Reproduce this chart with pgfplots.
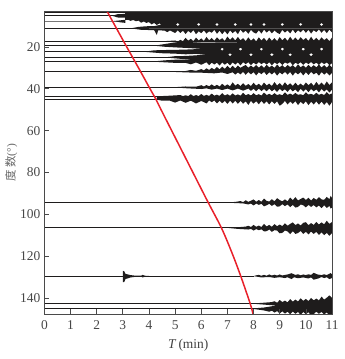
\documentclass[border=0pt]{standalone}
\usepackage{pgfplots}
\pgfplotsset{compat=1.18}
\usepackage{fontspec}
\setmainfont{Liberation Serif}
\newfontfamily\cjk{Noto Sans CJK SC}
\definecolor{tr}{HTML}{1E1C1C}
\definecolor{ax}{HTML}{4A4A4A}
\definecolor{rc}{HTML}{E8202A}
\begin{document}
\begin{tikzpicture}[x=1bp,y=1bp]
\path[use as bounding box] (0,0) rectangle (345,359);
\begin{axis}[
  at={(44.4bp,45bp)},anchor=south west,
  width=287.6bp,height=303bp,scale only axis,
  xmin=0,xmax=11,ymin=2.8,ymax=147.7,y dir=reverse,
  xtick={0,...,11},ytick={20,40,...,140},
  tick pos=left,tick align=inside,
  major tick length=5bp,
  axis line style={ax,line width=0.9bp},
  every tick/.style={ax,line width=0.7bp},
  tick label style={font=\fontsize{13.5}{14}\selectfont,text=black!72},
  /pgf/number format/assume math mode=true,
  xticklabel style={yshift=-3bp},
  yticklabel style={xshift=-0.5bp},
  xlabel={\textit{T}\,(min)},
  xlabel style={font=\fontsize{13.5}{14}\selectfont,text=black!75,yshift=-3bp},
  ylabel={{\cjk 度\,数}(°)},
  ylabel style={font=\fontsize{11.5}{12}\selectfont,text=black!60,yshift=-4bp},
  axis on top,
]
\pgfplotsset{bl/.style={tr,line width=0.8bp,forget plot},band/.style={fill=tr,draw=none,forget plot}}
% baselines
\addplot[bl] coordinates {(0,3.4)(3.1,3.4)};
\addplot[bl] coordinates {(0,5.1)(3.1,5.1)};
\addplot[tr!60,line width=1.1bp,forget plot] coordinates {(0,7.9)(3.1,7.9)};
\addplot[bl] coordinates {(0,11.1)(4,11.1)};
\addplot[bl] coordinates {(0,17.5)(6,17.5)};
\addplot[bl] coordinates {(0,19.4)(6,19.4)};
\addplot[bl] coordinates {(0,22.3)(6,22.3)};
\addplot[bl] coordinates {(0,25)(6,25)};
\addplot[bl,line width=1.1bp] coordinates {(0,27)(6,27)};
\addplot[bl] coordinates {(0,31.9)(7,31.9)};
\addplot[bl] coordinates {(0,39.3)(6,39.3)};
\addplot[bl,line width=1bp] coordinates {(0,43.5)(5,43.5)};
\addplot[bl] coordinates {(0,44.9)(5,44.9)};
\addplot[bl] coordinates {(0,94.4)(8,94.4)};
\addplot[bl] coordinates {(0,106.5)(8,106.5)};
\addplot[bl] coordinates {(0,129.6)(8,129.6)};
\addplot[bl] coordinates {(0,142.7)(8.2,142.7)};
\addplot[bl] coordinates {(0,145.1)(8.2,145.1)};
% top block
\addplot[band] coordinates {(2.6,5.1)(2.8,4.3)(3.09,4.2)(3.09,6)(2.8,5.9)};
\addplot[band] coordinates {(2.65,7.6)(3.1,7.0)(3.1,8.5)(2.9,8.2)};
\addplot[band] coordinates {(3.09,1)(3.09,7.1)(3.2,7.0)(3.3,7.5)(3.4,7.1)(3.5,7.7)(3.6,7.4)(3.7,8.4)(3.8,7.8)(3.9,8.5)(4.0,8.1)(4.1,9.2)(4.2,8.5)(4.3,9.5)(4.4,8.7)(4.5,9.9)(4.7,9.6)(5.0,9.6)(5.1,8.5)(5.2,9.6)(5.8,9.6)(5.9,8.5)(6.0,9.7)(6.5,9.6)(6.6,8.5)(6.7,9.6)(7.2,9.7)(7.3,8.5)(7.4,9.6)(7.8,9.6)(7.9,8.5)(8.0,9.7)(8.3,9.6)(8.4,8.5)(8.5,9.6)(9.0,9.7)(9.1,8.5)(9.2,9.6)(9.7,9.6)(9.8,8.5)(9.9,9.6)(10.5,9.7)(10.6,8.5)(10.7,9.6)(11,9.6)(11,1)};
\addplot[band] coordinates {(3.3,11.1)(3.6,10.4)(3.9,10.1)(4.2,10.0)(4.4,9.5)(4.7,8.9)(5.0,8.8)(5.1,10.0)(5.2,8.8)(5.8,8.8)(5.9,10.0)(6.0,8.8)(6.5,8.8)(6.6,10.0)(6.7,8.8)(7.2,8.8)(7.3,10.0)(7.4,8.8)(7.8,8.8)(7.9,10.0)(8.0,8.8)(8.3,8.8)(8.4,10.0)(8.5,8.8)(9.0,8.8)(9.1,10.0)(9.2,8.8)(9.7,8.8)(9.8,10.0)(9.9,8.8)(10.5,8.8)(10.6,10.0)(10.7,8.8)(11,8.8)(11,11.1)};
\addplot[band] coordinates {(3.3,11.1)(3.7,11.8)(4.0,11.9)(4.2,12.0)(4.3,14.3)(4.35,12.0)(4.6,12.2)(4.7,12.9)(4.8,12.1)(4.9,12.7)(5,13.3)(5.1,12.0)(5.2,13.3)(5.3,12.2)(5.4,13.8)(5.5,12.3)(5.6,13.3)(5.7,12.0)(5.8,13.9)(5.9,12.5)(6,13.4)(6.1,12.1)(6.2,13.6)(6.3,12.5)(6.4,13.2)(6.5,11.8)(6.6,13.7)(6.7,12.2)(6.8,13.9)(6.9,12.4)(7,14.0)(7.1,12.1)(7.2,13.4)(7.3,12.3)(7.4,13.9)(7.5,11.7)(7.6,13.2)(7.7,12.2)(7.8,13.7)(7.9,11.8)(8,13.0)(8.1,13.6)(8.2,12.0)(8.3,13.6)(8.4,11.7)(8.5,13.1)(8.6,12.0)(8.7,13.5)(8.8,12.1)(8.9,13.2)(9,13.8)(9.1,11.8)(9.2,13.1)(9.3,12.1)(9.4,13.5)(9.5,11.7)(9.6,13.4)(9.7,12.0)(9.8,13.0)(9.9,11.7)(10,13.2)(10.1,11.8)(10.2,13.6)(10.3,12.0)(10.4,12.9)(10.5,11.6)(10.6,13.2)(10.7,11.8)(10.8,13.4)(10.9,11.7)(11,13.0)(11,11.1)};
% 17.5 - 27 block
\addplot[band] coordinates {(4,17.5)(4.6,17.2)(5,16.9)(5.1,17.4)(5.2,16.6)(5.3,17.2)(5.4,15.6)(5.5,17)(5.6,16.1)(5.7,17.2)(5.8,15.5)(5.9,16.9)(6,15.9)(6.1,17.1)(6.2,15.2)(6.3,16.8)(6.4,15.7)(6.5,17)(6.6,15.4)(6.7,16.7)(6.8,15.8)(6.9,17.1)(7,15.0)(7.1,16.6)(7.2,15.4)(7.3,16.9)(7.4,15.2)(7.5,16.8)(7.6,15.8)(7.7,17.2)(7.8,15.4)(7.9,17)(8,15.9)(8.1,17.3)(8.2,15.4)(8.3,16.9)(8.4,15.7)(8.5,17.2)(8.6,15.5)(8.7,17)(8.8,15.8)(8.9,17.2)(9,15.3)(9.1,16.8)(9.2,15.6)(9.3,17.1)(9.4,15.1)(9.5,16.8)(9.6,15.5)(9.7,16.9)(9.8,15.3)(9.9,16.7)(10,15.7)(10.1,17.1)(10.2,15.1)(10.3,16.9)(10.4,15.6)(10.5,17)(10.6,15.4)(10.7,16.7)(10.8,15.8)(10.9,17.2)(11,15.5)(11,18.5)};
\addplot[band] coordinates {(4.2,19.4)(4.8,18.2)(5.2,17.5)(5.5,17.6)(6,18)(11,18)(11,21.2)(10.7,21.2)(10.6,20.3)(10.5,21.3)(10,21.3)(9.9,20.3)(9.8,21.3)(9.2,21.2)(9.1,20.3)(9,21.3)(8.4,21.3)(8.3,20.4)(8.2,21.3)(7.6,21.3)(7.5,20.3)(7.4,21.3)(6.9,21.3)(6.8,20.4)(6.7,21.3)(6,20.9)(5.5,20.5)(5,20.2)(4.6,19.9)};
\addplot[band] coordinates {(3.8,22.3)(4.2,21.6)(4.8,21.4)(5.3,21.3)(5.7,21.1)(6.0,20.8)(6.7,20.6)(6.8,21.8)(6.9,20.6)(7.4,20.6)(7.5,21.8)(7.6,20.6)(8.2,20.6)(8.3,21.8)(8.4,20.6)(9,20.6)(9.1,21.8)(9.2,20.6)(9.8,20.6)(9.9,21.8)(10,20.6)(10.5,20.6)(10.6,21.8)(10.7,20.6)(11,20.6)(11,24.0)(10.3,24.0)(10.2,22.9)(10.1,24.0)(9.5,24.0)(9.4,23.0)(9.3,24.0)(8.8,24.0)(8.7,22.9)(8.6,24.0)(8,24.0)(7.9,23.0)(7.8,24.0)(7.2,24.0)(7.1,23.0)(7,24.0)(6.2,23.8)(5.8,23.3)(5.4,23.5)(5,23.2)(4.5,23)};
\addplot[band] coordinates {(4.6,25)(5,24.4)(5.4,24.3)(5.8,24)(6.2,23.6)(7,23.4)(7.1,24.4)(7.2,23.4)(7.8,23.4)(7.9,24.4)(8,23.4)(8.6,23.4)(8.7,24.4)(8.8,23.4)(9.3,23.4)(9.4,24.4)(9.5,23.4)(10.1,23.4)(10.2,24.4)(10.3,23.4)(11,23.4)(11,27)(6,27)(5.5,26)};
\addplot[band] coordinates {(4.1,27)(4.6,26.4)(5,26.1)(6,26)(11,26)(11,27.8)(10.9,28.7)(10.8,27.4)(10.7,28.2)(10.6,27.3)(10.5,28.6)(10.4,27.5)(10.3,28.3)(10.2,27.2)(10.1,28.2)(10,27.4)(9.9,28.6)(9.8,27.3)(9.7,28.2)(9.6,27.5)(9.5,28.8)(9.4,27.2)(9.3,28.0)(9.2,27.4)(9.1,28.6)(9,27.3)(8.9,28.2)(8.8,27.4)(8.7,28.8)(8.6,27.3)(8.5,28.4)(8.4,27.4)(8.3,28.2)(8.2,27.2)(8.1,28.4)(8,27.5)(7.9,28.7)(7.8,27.3)(7.7,28.2)(7.6,27.3)(7.5,28.8)(7.4,27.4)(7.3,28.4)(7.2,27.4)(7.1,28.8)(7,27.5)(6.9,28.5)(6.8,27.4)(6.7,28.9)(6.6,27.5)(6.5,28.4)(6.4,27.5)(6.3,28.7)(6.2,27.3)(6,28.5)(5.8,27.4)(5.6,28.3)(5.4,27.6)(5,27.6)};
% 31.9
\addplot[band] coordinates {(4.9,31.9)(5.4,31.5)(5.6,31.0)(5.8,31.4)(6,30.6)(6.1,31.2)(6.2,30.2)(6.3,31.0)(6.4,30.0)(6.5,30.8)(6.6,29.6)(6.7,30.7)(6.8,29.4)(6.9,30.5)(7,29.0)(7.1,30.3)(7.2,29.0)(7.3,30.2)(7.4,28.9)(7.5,30.0)(7.6,29.2)(7.7,28.6)(7.8,29.9)(7.9,28.9)(8,29.9)(8.1,28.6)(8.2,29.9)(8.3,28.8)(8.4,30.0)(8.5,28.5)(8.6,29.8)(8.7,28.9)(8.8,30.0)(8.9,28.4)(9,29.7)(9.1,28.7)(9.2,29.9)(9.3,28.6)(9.4,29.6)(9.5,28.7)(9.6,29.9)(9.7,28.3)(9.8,29.7)(9.9,28.8)(10,29.9)(10.1,28.6)(10.2,29.8)(10.3,28.7)(10.4,29.7)(10.5,28.4)(10.6,29.8)(10.7,28.7)(10.8,29.9)(10.9,28.5)(11,29.7)(11,32.4)(10.9,33.6)(10.8,32.2)(10.7,33.2)(10.6,32.0)(10.5,33.7)(10.4,32.3)(10.3,33.1)(10.2,31.9)(10.1,33.4)(10,32.1)(9.9,33.6)(9.8,32.0)(9.7,33.1)(9.6,32.1)(9.5,33.7)(9.4,32.0)(9.3,33.2)(9.2,31.9)(9.1,33.1)(9,32.2)(8.9,33.7)(8.8,32.0)(8.7,33.1)(8.6,32.1)(8.5,33.4)(8.4,31.9)(8.3,33.0)(8.2,32.1)(8.1,33.6)(8,32.0)(7.9,33.1)(7.8,32.0)(7.7,33.3)(7.6,31.9)(7.5,33.1)(7.4,32.2)(7.3,33.2)(7.2,32.1)(7,32.9)(6.8,32.2)(6.5,32.6)(6,32.3)(5.5,32.2)};
% 39.3
\addplot[band] coordinates {(4.9,39.3)(5.4,38.9)(5.8,39)(6,38.3)(6.1,38.9)(6.2,38.2)(6.3,38.8)(6.4,37.9)(6.5,38.8)(6.6,38.1)(6.7,38.9)(6.8,37.6)(6.9,38.7)(7,37.9)(7.1,38.8)(7.2,36.9)(7.3,38.5)(7.4,37.6)(7.5,38.7)(7.6,37.3)(7.7,38.6)(7.8,37.7)(7.9,38.7)(8,37.1)(8.1,38.5)(8.2,37.6)(8.3,38.7)(8.4,37.0)(8.5,38.4)(8.6,37.5)(8.7,38.7)(8.8,36.8)(8.9,38.4)(9,37.3)(9.1,38.6)(9.2,36.9)(9.3,38.4)(9.4,37.4)(9.5,38.6)(9.6,37.1)(9.7,38.5)(9.8,37.5)(9.9,38.6)(10,37.0)(10.1,38.3)(10.2,37.1)(10.3,38.6)(10.4,36.7)(10.5,38.3)(10.6,37.0)(10.7,38.4)(10.8,36.5)(10.9,38.2)(11,36.9)(11,40.4)(10.9,41.8)(10.8,40.3)(10.7,41.3)(10.6,40.1)(10.5,41.7)(10.4,40.3)(10.3,41.2)(10.2,40.1)(10.1,41.6)(10,40.2)(9.9,41.3)(9.8,40.0)(9.7,41.6)(9.6,40.3)(9.5,41.2)(9.4,40.0)(9.3,41.5)(9.2,40.2)(9.1,41.1)(9,40.0)(8.9,41.5)(8.8,40.2)(8.7,41.2)(8.6,39.9)(8.5,41.2)(8.4,40.1)(8.3,41.1)(8.2,39.9)(8.1,41.2)(8,40.0)(7.9,41)(7.8,39.9)(7.6,40.9)(7.4,39.9)(7.2,40.8)(7,39.9)(6.8,40.6)(6.6,39.9)(6.4,40.4)(6.2,39.8)(6,40.1)(5.5,39.8)};
% 43.5 & 44.9
\addplot[band] coordinates {(4.3,43.6)(4.8,43.3)(5.2,43.0)(5.3,43.5)(5.4,43.1)(5.5,43.5)(5.6,42.6)(5.7,43.5)(5.8,43.0)(5.9,43.5)(6,42.5)(6.1,43.4)(6.2,42.9)(6.3,43.4)(6.4,42.3)(6.5,43.3)(6.6,42.8)(6.7,43.4)(6.8,42.1)(6.9,43.2)(7,42.6)(7.1,43.3)(7.2,42.2)(7.3,43.2)(7.4,42.7)(7.5,43.3)(7.6,41.9)(7.7,43.1)(7.8,42.5)(7.9,43.2)(8,42.1)(8.1,43.1)(8.2,42.6)(8.3,43.2)(8.4,41.8)(8.5,43)(8.6,42.4)(8.7,43.1)(8.8,42.1)(8.9,43)(9,42.6)(9.1,43.1)(9.2,41.7)(9.3,42.9)(9.4,42.3)(9.5,43)(9.6,42.0)(9.7,42.9)(9.8,42.6)(9.9,43.1)(10,41.7)(10.1,42.8)(10.2,42.4)(10.3,43)(10.4,41.9)(10.5,42.9)(10.6,42.4)(10.7,43)(10.8,41.6)(10.9,42.8)(11,42.2)(11,45)(4.3,45)};
\addplot[band] coordinates {(4.2,44.9)(4.5,44.3)(11,44)(11,46.3)(10.9,48.1)(10.8,46.3)(10.7,47.7)(10.6,46.1)(10.5,47.6)(10.4,46.0)(10.3,47.5)(10.2,46.2)(10.1,47.8)(10,46.0)(9.9,47.3)(9.8,46.2)(9.7,47.8)(9.6,45.9)(9.5,47.2)(9.4,46.1)(9.3,47.5)(9.2,45.8)(9.1,47.2)(9,48.1)(8.9,46.0)(8.8,47.2)(8.7,45.9)(8.6,47.5)(8.5,46.0)(8.4,47.2)(8.3,45.8)(8.2,47.4)(8.1,45.9)(8,47.1)(7.9,45.8)(7.8,47.7)(7.7,46.0)(7.6,47.1)(7.5,45.8)(7.4,47.2)(7.3,45.7)(7.2,47)(7.1,45.7)(7,47.2)(6.9,45.8)(6.8,46.9)(6.7,45.7)(6.6,47)(6.5,45.6)(6.4,46.4)(6.3,45.6)(6.2,47)(6,45.8)(5.8,47)(5.6,45.7)(5.4,46.7)(5.2,45.6)(5,46.6)(4.8,45.7)(4.5,45.7)};
% 94.4
\addplot[band] coordinates {(6.9,94.4)(7.3,94.1)(7.5,93.7)(7.6,94.2)(7.7,93.3)(7.8,94.1)(7.9,93.5)(8,92.9)(8.1,94)(8.2,93.2)(8.3,94)(8.4,92.5)(8.5,93.6)(8.6,93.9)(8.7,92.8)(8.8,93.8)(8.9,92.3)(9,93.2)(9.1,93.8)(9.2,92.9)(9.3,93.8)(9.4,92.0)(9.5,93.3)(9.6,91.8)(9.7,93.4)(9.8,92.7)(9.9,92.0)(10,93.2)(10.1,92.1)(10.2,93.4)(10.3,92.2)(10.4,93.1)(10.5,91.8)(10.6,92.9)(10.7,93.1)(10.8,91.7)(10.9,92.8)(10.95,91.2)(11,92.2)(11,96.8)(10.95,97.3)(10.9,96.0)(10.8,97)(10.7,95.7)(10.6,97.1)(10.5,95.8)(10.4,96.7)(10.3,95.6)(10.2,96.5)(10.1,95.5)(10,96.7)(9.9,95.7)(9.8,95.3)(9.7,96.5)(9.6,96.8)(9.5,95.5)(9.4,96.6)(9.3,95.3)(9.2,96.1)(9.1,95.2)(9,96.2)(8.9,96.4)(8.8,95.2)(8.7,96)(8.6,95.0)(8.5,95.7)(8.4,96.2)(8.3,95.0)(8.2,95.5)(8.1,94.9)(8,95.8)(7.9,94.9)(7.8,95.3)(7.6,94.8)(7.4,94.7)};
% 106.5
\addplot[band] coordinates {(7,106.5)(7.4,106.2)(7.7,105.9)(7.8,105.5)(7.9,106.1)(8,105.1)(8.1,106)(8.2,105.4)(8.3,106.1)(8.4,104.6)(8.5,105.8)(8.6,105.1)(8.7,106)(8.8,104.7)(8.9,105.7)(9,104.9)(9.1,105.7)(9.2,104.3)(9.3,105.5)(9.4,104.6)(9.5,103.9)(9.6,105.2)(9.7,104.4)(9.8,105.4)(9.9,104.1)(10,103.8)(10.1,105.2)(10.2,104.2)(10.3,105.1)(10.4,103.7)(10.5,104.9)(10.6,103.9)(10.7,104.8)(10.8,103.1)(10.9,104.6)(11,103.7)(11,109)(10.9,110.3)(10.8,108.9)(10.7,110)(10.6,108.6)(10.5,109.9)(10.4,108.4)(10.3,109.4)(10.2,108.3)(10.1,109.6)(10,108.4)(9.9,109.4)(9.8,108)(9.7,109)(9.6,109.4)(9.5,108.1)(9.4,109.5)(9.3,108.2)(9.2,107.8)(9.1,108.9)(9,109.1)(8.9,107.8)(8.8,107.6)(8.7,108.4)(8.6,107.3)(8.5,108.1)(8.4,108.2)(8.3,107.2)(8.2,107.6)(8.1,107.1)(8,107.8)(7.9,107)(7.8,107.3)(7.4,107)};
% 129.6
\addplot[band] coordinates {(3,127.1)(3.05,127.2)(3.1,128.5)(3.3,129.1)(3.5,129.4)(3.7,129.4)(3.75,129)(3.85,129.4)(4.1,129.6)(3.85,129.9)(3.75,130.2)(3.7,129.8)(3.5,129.9)(3.3,130.2)(3.1,131)(3.05,132.5)(3,132.5)};
\addplot[band] coordinates {(8,129.6)(8.1,129.2)(8.2,129.0)(8.3,129.4)(8.4,129.0)(8.5,129.4)(8.6,128.8)(8.7,129.3)(8.8,128.9)(8.9,129.3)(9,128.8)(9.1,129.3)(9.2,129)(9.3,128.8)(9.45,128.2)(9.6,129)(9.7,128.7)(9.8,129.2)(9.9,128.8)(10,129.1)(10.1,128.7)(10.2,129)(10.3,128)(10.45,128.8)(10.6,129.1)(10.7,128.7)(10.8,129.1)(10.95,128.1)(11,128.8)(11,130.5)(10.9,131)(10.8,130.1)(10.7,130.5)(10.6,130)(10.5,130.6)(10.3,131.3)(10.2,130.2)(10.1,130.7)(9.9,130.2)(9.7,130.6)(9.55,130.1)(9.45,131)(9.3,130.1)(9.2,130.5)(9,130.1)(8.8,130.4)(8.6,130)(8.3,130.2)};
% 142.7 & 145.1
\addplot[band] coordinates {(7.9,142.7)(8.4,142.3)(8.7,142.0)(8.8,141.6)(8.9,142.3)(9,141.0)(9.1,142)(9.2,141.3)(9.3,142.1)(9.4,140.6)(9.5,141.8)(9.6,140.8)(9.7,141.7)(9.8,140.2)(9.9,141.4)(10,140.5)(10.1,141.5)(10.2,140.0)(10.3,141.2)(10.4,140.3)(10.5,141.2)(10.6,139.4)(10.7,140.8)(10.8,139.9)(10.9,138.8)(11,140)(11,146)(9,146)(8.8,143.6)(8.4,143.2)};
\addplot[band] coordinates {(7.9,145.1)(8.4,144.6)(8.8,143.8)(9.2,143.5)(11,143.5)(11,147.5)(10.9,148.5)(10.8,146.9)(10.7,147.9)(10.6,146.7)(10.5,147.6)(10.4,146.6)(10.3,147.8)(10.2,148.5)(10.1,146.8)(10,147.8)(9.9,146.7)(9.8,148.2)(9.7,146.7)(9.6,147.6)(9.5,146.5)(9.4,147.8)(9.3,146.6)(9.2,147.5)(9.1,146.4)(9,147.5)(8.9,146.3)(8.8,147)(8.7,146.1)(8.6,146.6)(8.4,146)};
% travel-time curve
\addplot[rc,line width=1.5bp,smooth,forget plot] coordinates {(2.39,2.8)(3.15,20)(3.6,30)(4.04,40)(4.26,44.9)(4.47,50.2)(4.99,63)(5.68,80)(6.27,94.5)(6.77,106.5)(7.16,118)(7.51,129.6)(7.87,142.7)(7.98,147.7)};
\end{axis}
\end{tikzpicture}
\end{document}
